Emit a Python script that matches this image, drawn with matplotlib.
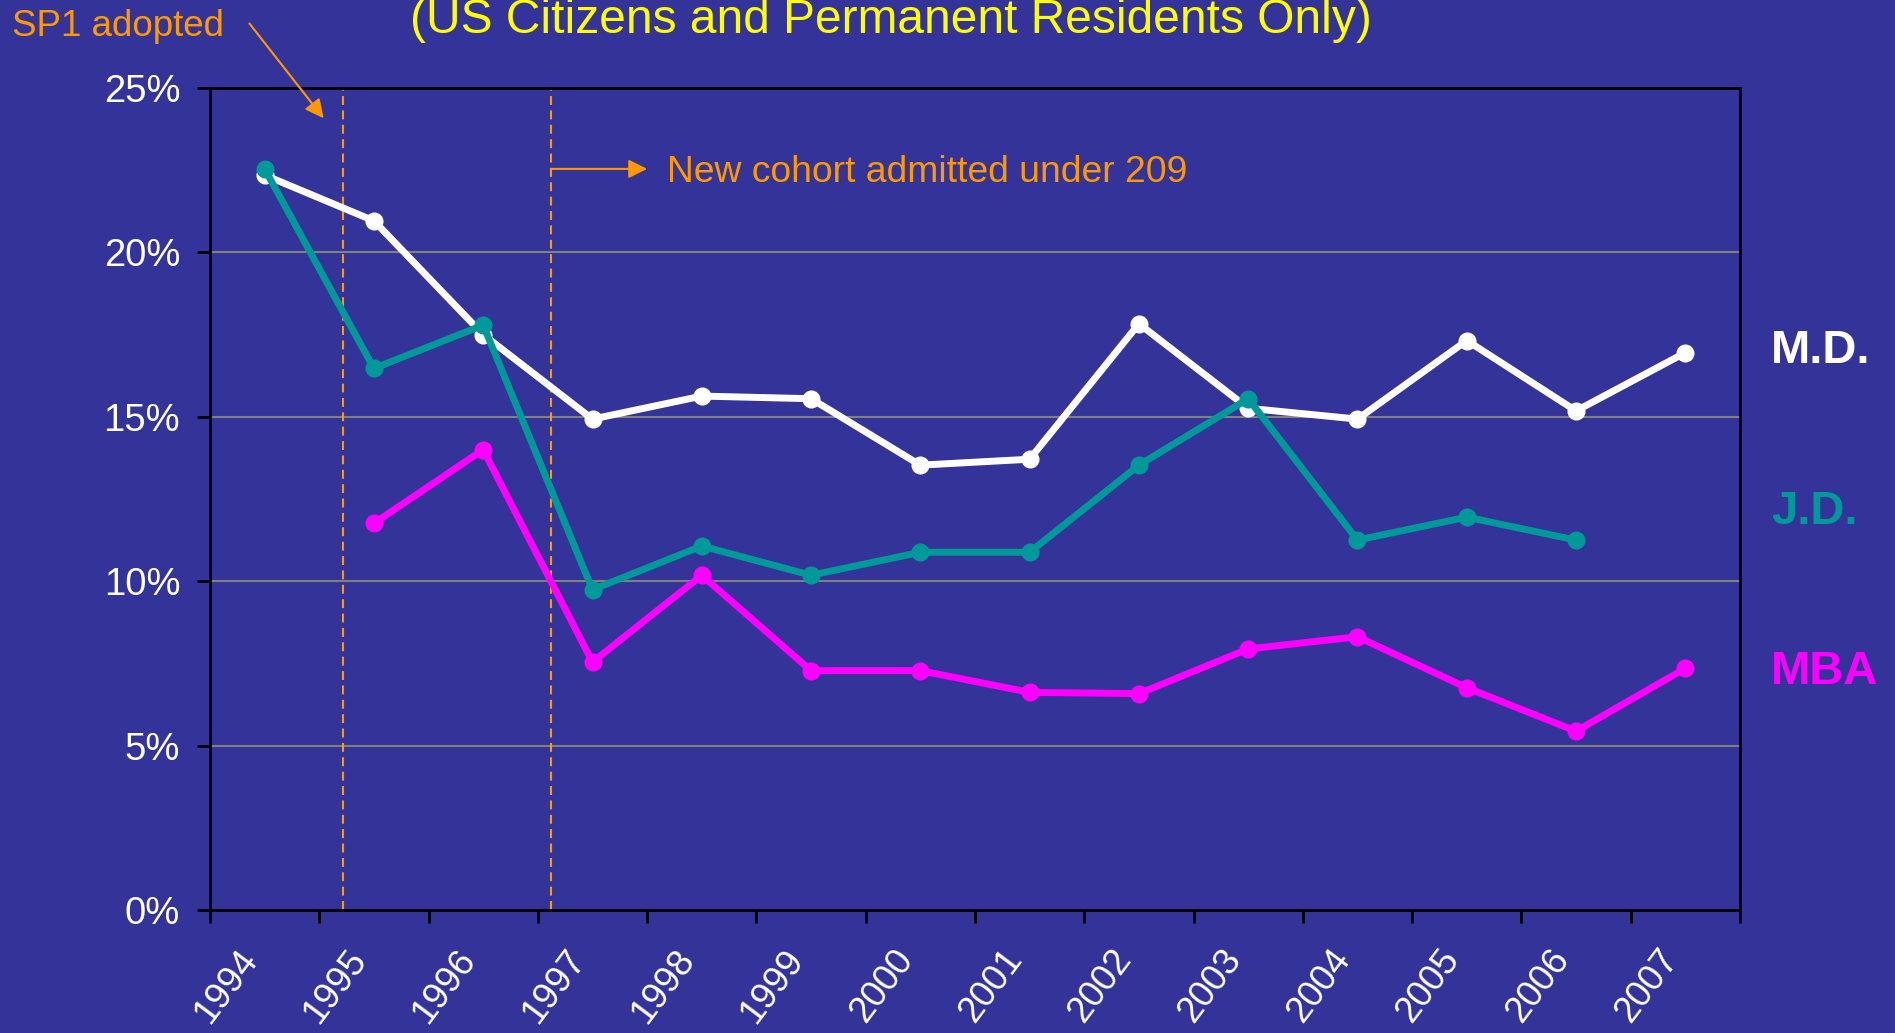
import matplotlib
matplotlib.use("Agg")
import matplotlib.pyplot as plt
import numpy as np

plt.rcParams['font.family'] = ['Liberation Sans', 'DejaVu Sans']

years = ["1994", "1995", "1996", "1997", "1998", "1999", "2000", "2001",
         "2002", "2003", "2004", "2005", "2006", "2007"]
md  = [22.35, 20.96, 17.5, 14.93, 15.63, 15.55, 13.53, 13.71, 17.83, 15.26, 14.93, 17.32, 15.18, 16.95]
jd  = [22.54, 16.47, 17.79, 9.74, 11.07, 10.18, 10.88, 10.88, 13.53, 15.55, 11.25, 11.95, 11.25, np.nan]
mba = [np.nan, 11.76, 14.0, 7.54, 10.18, 7.28, 7.28, 6.62, 6.58, 7.94, 8.31, 6.76, 5.44, 7.35]
yticks = [0, 5, 10, 15, 20, 25]
ytick_labels = ["0%", "5%", "10%", "15%", "20%", "25%"]
series_names = ["M.D.", "J.D.", "MBA"]
label_y = [17.0, 12.1, 7.25]
title_text = "(US Citizens and Permanent Residents Only)"
sp1_text = "SP1 adopted"
cohort_text = "New cohort admitted under 209"
event_x = [0.72, 2.62]   # positions of dashed event lines (category units)

BG = "#333399"
WHITE = "#FFFFFF"
TEAL = "#009999"
MAG = "#FF00FF"
ORANGE = "#FF9900"
YELLOW = "#FFFF00"

fig = plt.figure(figsize=(18.95, 10.33), dpi=100, facecolor=BG)
ax = fig.add_axes([210/1895, 1-910/1033, 1530/1895, 822/1033])
ax.set_facecolor(BG)

x = np.arange(len(years))
ax.set_xlim(-0.5, len(years) - 0.5)
ax.set_ylim(0, 25)

for v in yticks[1:-1]:
    ax.axhline(v, color="#808080", lw=1.5, zorder=1)

for ex in event_x:
    ax.axvline(ex, color=ORANGE, lw=1.5, ls=(0, (4.3, 2.6)), zorder=2)

colors = [WHITE, TEAL, MAG]
for vals, c in zip([md, jd, mba], colors):
    ax.plot(x, vals, color=c, lw=5, marker='o', markersize=12, zorder=3,
            solid_capstyle='round', solid_joinstyle='round')

for name, ly, c in zip(series_names, label_y, colors):
    ax.text(1.0203, ly, name, transform=ax.get_yaxis_transform(), color=c,
            fontsize=34, fontweight='bold', va='center', ha='left')

for s in ax.spines.values():
    s.set_color("black")
    s.set_linewidth(2)

ax.set_yticks(yticks)
ax.set_yticklabels(ytick_labels)
ax.tick_params(axis='y', colors="black", labelcolor=WHITE, labelsize=27.5,
               length=9.5, width=2, pad=12, direction='out')

ax.set_xticks(np.arange(-0.5, len(years) + 0.5, 1.0))
ax.set_xticklabels([])
ax.tick_params(axis='x', which='major', colors="black", length=9.5, width=2,
               direction='out')
ax.set_xticks(x, minor=True)
ax.set_xticklabels(years, minor=True)
ax.tick_params(axis='x', which='minor', length=0, labelcolor=WHITE,
               labelsize=26.5, pad=39)
for lab in ax.get_xticklabels(minor=True):
    lab.set_rotation(53)
    lab.set_rotation_mode('anchor')
    lab.set_ha('right')
    lab.set_va('bottom')

fig.text(891/1895, 1-33/1033, title_text, color=YELLOW, fontsize=34.5,
         ha='center', va='baseline')

ax.annotate(sp1_text, xy=(0.54, 24.08), xycoords='data',
            xytext=(12/1895, 1-27/1033), textcoords='figure fraction',
            color=ORANGE, fontsize=26.5, ha='left', va='center',
            arrowprops=dict(arrowstyle='-|>', color=ORANGE, lw=1.5,
                            mutation_scale=28, shrinkA=0, shrinkB=0,
                            relpos=(1.12, 0.6)),
            annotation_clip=False)

ax.annotate("", xy=(3.50, 22.54), xytext=(event_x[1], 22.54),
            arrowprops=dict(arrowstyle='-|>', color=ORANGE, lw=1.5,
                            mutation_scale=28, shrinkA=0, shrinkB=0))
ax.text(3.68, 22.54, cohort_text, color=ORANGE, fontsize=26.8,
        ha='left', va='center_baseline')

fig.savefig("out.png", dpi=100, facecolor=BG)
